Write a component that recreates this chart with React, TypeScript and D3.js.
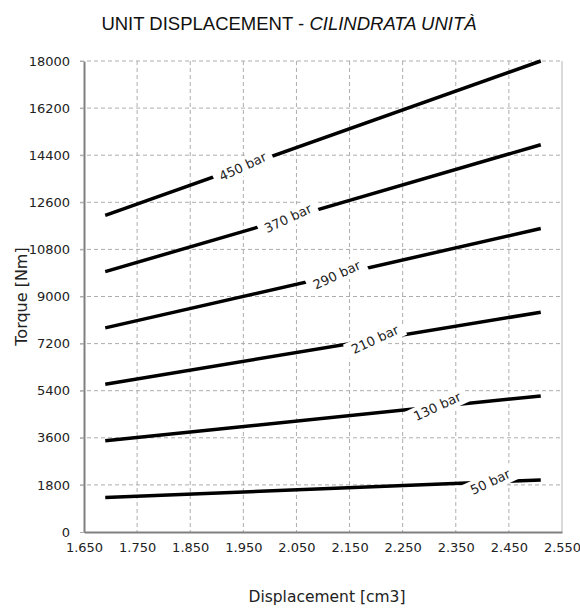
import React, { useRef, useEffect } from 'react';
import * as d3 from 'd3';

// pressure curves, torque read at first/last displacement
const pressures = [50, 130, 210, 290, 370, 450];
const displacementRange = [1690, 2510];
const torqueStart = [1320, 3490, 5650, 7800, 9950, 12100];
const torqueEnd = [1990, 5200, 8400, 11600, 14800, 18000];
// displacement where each curve label sits
const labelAt = [2415, 2315, 2198, 2126, 2034, 1949];

const xTicks = [1650, 1750, 1850, 1950, 2050, 2150, 2250, 2350, 2450, 2550];
const yTicks = [0, 1800, 3600, 5400, 7200, 9000, 10800, 12600, 14400, 16200, 18000];

const width = 580;
const height = 608;
const margin = { top: 61, right: 18, bottom: 76, left: 84 };

export default function App() {
    const svgRef = useRef<SVGSVGElement>(null);

    useEffect(() => {
        const svg = d3.select(svgRef.current);
        svg.selectAll('*').remove();

        const x = d3.scaleLinear()
            .domain([1650, 2550])
            .range([margin.left, width - margin.right]);
        const y = d3.scaleLinear()
            .domain([0, 18000])
            .range([height - margin.bottom, margin.top]);

        const font = 'DejaVu Sans, Verdana, sans-serif';
        // italian style thousands: 1650 -> 1.650
        const fmtX = (d: number) => {
            const s = String(d);
            return s.slice(0, 1) + '.' + s.slice(1);
        };

        // Gridlines
        svg.append('g')
            .selectAll('line')
            .data(yTicks.filter(d => d > 0))
            .join('line')
            .attr('x1', margin.left - 4)
            .attr('x2', width - margin.right)
            .attr('y1', d => y(d))
            .attr('y2', d => y(d))
            .attr('stroke', '#adadad')
            .attr('stroke-dasharray', '4,3');

        svg.append('g')
            .selectAll('line')
            .data(xTicks.slice(1, -1))
            .join('line')
            .attr('x1', d => x(d))
            .attr('x2', d => x(d))
            .attr('y1', margin.top)
            .attr('y2', height - margin.bottom)
            .attr('stroke', '#adadad')
            .attr('stroke-dasharray', '4,3');

        // right border
        svg.append('line')
            .attr('x1', x(2550)).attr('x2', x(2550))
            .attr('y1', margin.top).attr('y2', height - margin.bottom)
            .attr('stroke', '#b5b5b5');

        // y axis
        svg.append('g')
            .attr('transform', `translate(${margin.left},0)`)
            .call(d3.axisLeft(y).tickValues(yTicks).tickFormat(d3.format('d')).tickSize(4).tickSizeOuter(0).tickPadding(10))
            .call(g => g.select('.domain').attr('stroke', '#808080').attr('stroke-width', 2))
            .call(g => g.selectAll('.tick line').attr('stroke', '#adadad'))
            .call(g => g.selectAll('.tick text')
                .attr('font-size', 13)
                .attr('font-family', font)
                .attr('fill', '#222'));

        // x axis
        svg.append('g')
            .attr('transform', `translate(0,${height - margin.bottom})`)
            .call(d3.axisBottom(x).tickValues(xTicks).tickFormat(d => fmtX(d as number)).tickSize(0).tickSizeOuter(0).tickPadding(11))
            .call(g => g.select('.domain').attr('stroke', '#808080').attr('stroke-width', 2))
            .call(g => g.selectAll('.tick text')
                .attr('font-size', 13)
                .attr('font-family', font)
                .attr('fill', '#222'));

        // Curves
        const line = d3.line<[number, number]>()
            .x(d => x(d[0]))
            .y(d => y(d[1]));

        const angle = -25;

        pressures.forEach((p, i) => {
            const pts: [number, number][] = [
                [displacementRange[0], torqueStart[i]],
                [displacementRange[1], torqueEnd[i]],
            ];
            svg.append('path')
                .datum(pts)
                .attr('fill', 'none')
                .attr('stroke', '#000')
                .attr('stroke-width', 3.5)
                .attr('d', line);

            const t = (labelAt[i] - displacementRange[0]) / (displacementRange[1] - displacementRange[0]);
            const lx = x(labelAt[i]);
            const ly = y(torqueStart[i] + t * (torqueEnd[i] - torqueStart[i]));

            const g = svg.append('g')
                .attr('transform', `translate(${lx},${ly}) rotate(${angle})`);
            const rect = g.append('rect').attr('fill', '#fff');
            const txt = g.append('text')
                .attr('text-anchor', 'middle')
                .attr('dominant-baseline', 'central')
                .attr('font-size', 13)
                .attr('font-family', font)
                .attr('fill', '#222')
                .text(`${p} bar`);
            const w = (txt.node() as SVGTextElement).getComputedTextLength();
            rect.attr('x', -w / 2 - 6).attr('y', -9).attr('width', w + 12).attr('height', 18);
        });

        // Title
        const title = svg.append('text')
            .attr('x', 289)
            .attr('y', 30)
            .attr('text-anchor', 'middle')
            .attr('font-size', 18.5)
            .attr('font-family', 'Liberation Sans, Arial, sans-serif')
            .attr('fill', '#111');
        title.append('tspan').text('UNIT DISPLACEMENT - ');
        title.append('tspan').attr('font-style', 'italic').text('CILINDRATA UNITÀ');

        // Axis titles
        svg.append('text')
            .attr('transform', `translate(27,${(margin.top + height - margin.bottom) / 2}) rotate(-90)`)
            .attr('text-anchor', 'middle')
            .attr('font-size', 16)
            .attr('font-family', font)
            .attr('fill', '#222')
            .text('Torque [Nm]');

        svg.append('text')
            .attr('x', 327)
            .attr('y', 602)
            .attr('text-anchor', 'middle')
            .attr('font-size', 15.5)
            .attr('font-family', font)
            .attr('fill', '#222')
            .text('Displacement [cm3]');
    }, []);

    return (
        <svg
            ref={svgRef}
            width={width}
            height={height}
            style={{ position: 'absolute', left: 0, top: 0, background: '#fff' }}
        />
    );
}
